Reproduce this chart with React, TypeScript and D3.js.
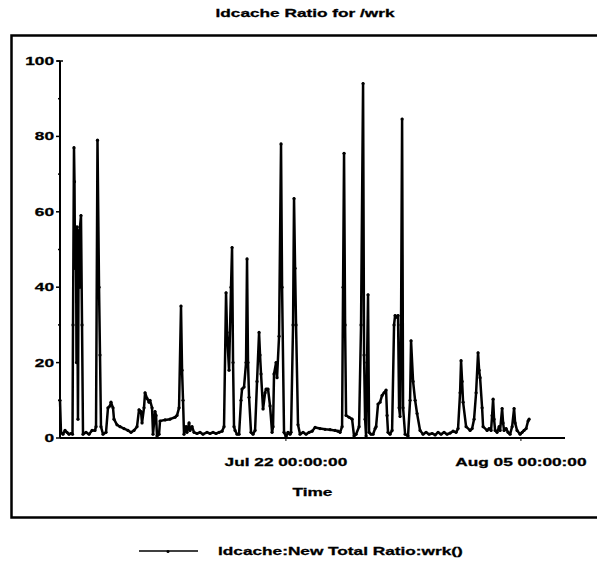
import React from "react";
import * as d3 from "d3";

// time axis of the plot (start/end of the sampled period)
const periodStart = new Date(1998, 6, 8, 13, 0, 0);
const periodEnd = new Date(1998, 7, 7, 15, 0, 0);
const timeTicks = [new Date(1998, 6, 22), new Date(1998, 7, 5)];
const timeTickLabels = ["Jul 22 00:00:00", "Aug 05 00:00:00"];

// sample times, hours after periodStart
const sampleHours = [
  0, 1.4, 4.3, 7.2, 10, 12.9, 15.7, 17.9, 18.6, 20, 20.7, 21.5, 22.9, 23.6, 24.3, 25.7, 26.5, 27.2, 27.9,
  28.6, 30, 31.5, 32.9,
  37.2, 41.5, 45.8, 50, 51.5, 53.6, 55.8, 57.2, 58.6, 61.5, 65.8, 68.6, 71.5, 72.9, 75.8, 77.2, 81.5,
  85.8, 91.5, 97.2, 101.5, 105.8, 110.1, 113, 115.8, 117.3, 120.1, 121.6, 124.4, 127.3, 128.7, 131.6,
  133, 135.9, 137.3, 138.7, 141.6, 143, 150.2, 157.3, 164.5, 167.3, 170.2, 173, 174.5, 175.9, 177.3,
  180.2, 181.6, 184.5, 185.9, 188.8, 191.6, 195.9, 200.2, 204.5, 210.2, 214.5, 218.8, 223.1, 227.4,
  231.7, 234.5, 237.4, 238.8, 241.7, 244.5, 246, 247.4, 248.8, 250.3, 253.1, 256, 258.8, 260.3, 263.1,
  266, 267.4, 268.8, 270.3, 273.1, 276, 278.9, 281.7, 284.6, 286, 287.4, 290.3, 293.2, 294.6, 297.4,
  300.3, 303.2, 304.6, 306, 308.9, 310.3, 313.2, 316, 317.5, 320.3, 323.2, 326, 328.9, 330.3, 333.2,
  334.6, 336.1, 337.5, 340.3, 343.2, 347.5, 351.8, 356.1, 360.4, 364.7, 371.8, 379, 386.1, 393.3,
  397.5, 400.4, 403.3, 404.7, 406.1, 407.6, 409, 413.3, 417.6, 420.4, 423.3, 427.6, 430.4, 433.3,
  434.7, 436.2, 437.6, 439, 440.4, 441.9, 444.7, 447.6, 450.5, 451.9, 454.7, 457.6, 460.5, 463.3,
  466.2, 467.6, 469, 471.9, 474.8, 477.6, 479.1, 481.9, 483.3, 484.8, 486.2, 487.6, 489.1, 490.5,
  493.4, 497.6, 500.5, 501.9, 504.8, 507.7, 510.5, 514.8, 519.1, 523.4, 527.7, 532, 536.3, 540.5,
  544.8, 549.1, 553.4, 557.7, 562, 566.3, 569.1, 572, 573.4, 574.9, 576.3, 580.6, 586.3, 589.2, 592,
  594.9, 597.7, 599.2, 600.6, 603.5, 604.9, 610.6, 613.5, 616.3, 617.8, 619.2, 620.6, 622.1, 624.9,
  627.8, 629.2, 632.1, 633.5, 634.9, 637.8, 640.6, 643.5, 646.4, 649.2, 650.7, 653.5, 657.8, 660.7,
  663.5, 666.4, 669.2, 670.7,
];

// ldcache:New Total Ratio:wrk() values
const ldcacheRatio = [
  10, 1.5, 1, 2, 1.5, 1, 1.2, 1, 30, 77, 68, 45, 55, 20, 56, 5, 45, 55, 40,
  56, 59, 30, 1,
  1.5, 1, 2, 2, 3, 79, 40, 22, 3, 1, 1.5, 8, 8.5, 9.5, 8, 5, 3.5,
  3, 2.5, 2, 1.5, 2, 3, 7.5, 7, 4, 8, 12, 10.5, 9.5, 10, 8,
  1, 7, 6, 0.5, 1, 4.5, 4.8, 5, 5.5, 6, 8, 35, 18, 10, 1,
  3, 1.5, 4, 2, 3, 1.5, 1.2, 1.5, 1, 1.5, 1.2, 1.5, 1.2, 1.5,
  1.8, 3, 38.5, 28, 18, 40, 50.5, 20, 3, 2, 1, 1, 10, 13, 13.5,
  20, 47.5, 20, 10.8, 1.5, 1, 2, 15, 28, 22, 17, 7.7, 12, 13, 13,
  8.5, 1.5, 3, 17, 20, 16, 27, 78, 40, 1.5, 0.3, 1.5, 1, 1.5, 30,
  63.5, 45, 30, 3.5, 1, 1.5, 1, 1.5, 1.8, 2.8, 2.5, 2.3, 2.2, 2,
  1.8, 1.5, 3, 40, 75.5, 30, 6, 5.5, 5, 0.5, 1, 3, 30, 94,
  22, 5, 0.5, 20, 38, 1.5, 1, 1, 2.5, 3, 9, 9.5, 11.3, 12,
  12.7, 6, 1.5, 1, 2, 30, 32.5, 32, 32.5, 8, 5.7, 30, 84.6, 8,
  1, 0.5, 10, 25.8, 15, 10, 6.5, 2, 1, 1.5, 1, 1.2, 0.8, 1.5,
  1, 1.5, 1, 1.3, 1.8, 1.5, 2.5, 12, 20.5, 15, 9.5, 3, 2, 2.5, 5,
  12, 22.6, 18, 16, 8, 3, 2, 2.5, 2, 6, 10.3, 5, 2, 1.5,
  3, 2, 7.8, 4, 2, 2.5, 1.5, 1, 3, 7.8, 4, 2, 1, 1.5,
  2, 2.5, 4.5, 5,
];

const chartTitle = "ldcache Ratio for /wrk";
const seriesName = "ldcache:New Total Ratio:wrk()";

const W = 597;
const H = 570;
const font = "'Liberation Sans', Arial, Helvetica, sans-serif";
// the scanned original has very wide lettering
const stretch = 1.5;

const Label = ({ x, y, anchor = "start", size = 11.5, children }: any) => (
  <text
    transform={`translate(${x},${y}) scale(${stretch},1)`}
    textAnchor={anchor}
    fontFamily={font}
    fontWeight="bold"
    fontSize={size}
    fill="#000"
    stroke="#000"
    strokeWidth={0.3}
  >
    {children}
  </text>
);

const App = () => {
  const x = d3.scaleTime().domain([periodStart, periodEnd]).range([60, 565]);
  const y = d3.scaleLinear().domain([0, 100]).range([438, 61]);

  const points = sampleHours.map((h, i) => ({
    t: d3.timeMinute.offset(periodStart, Math.round(h * 60)),
    v: ldcacheRatio[i],
  }));

  const line = d3
    .line<{ t: Date; v: number }>()
    .x(d => x(d.t))
    .y(d => y(d.v));

  const majorTicks = y.ticks(5);
  const minorTicks = y.ticks(10).filter(t => !majorTicks.includes(t));
  const [x0, x1] = x.range();

  return (
    <svg width={W} height={H} style={{ position: "absolute", left: 0, top: 0, background: "#fff" }}>
      <rect x={0} y={0} width={W} height={H} fill="#fff" />
      <Label x={305} y={17} anchor="middle" size={11.5}>
        {chartTitle}
      </Label>

      {/* outer frame */}
      <rect x={11.5} y={35.5} width={600} height={482} fill="none" stroke="#000" strokeWidth={2.5} />

      {/* y axis */}
      <line x1={x0} x2={x0} y1={y(0)} y2={y(100)} stroke="#000" strokeWidth={2} />
      <line x1={x0 - 3} x2={x0 + 3} y1={y(100)} y2={y(100)} stroke="#000" strokeWidth={1.5} />
      {majorTicks.map(t => (
        <g key={t}>
          <line x1={x0 - 4} x2={x0} y1={y(t)} y2={y(t)} stroke="#000" strokeWidth={1.5} />
          <Label x={54} y={y(t) + 4} anchor="end">
            {t}
          </Label>
        </g>
      ))}
      {minorTicks.map(t => (
        <line key={t} x1={x0 - 2} x2={x0 + 1} y1={y(t)} y2={y(t)} stroke="#000" strokeWidth={1.5} />
      ))}

      {/* x axis */}
      <line x1={x0} x2={x1} y1={y(0)} y2={y(0)} stroke="#000" strokeWidth={1.8} />
      {timeTicks.map((t, i) => (
        <g key={i}>
          <line x1={x(t)} x2={x(t)} y1={y(0)} y2={y(0) + 3} stroke="#000" strokeWidth={1} />
          <Label x={x(t)} y={466} anchor="middle">
            {timeTickLabels[i]}
          </Label>
        </g>
      ))}
      <Label x={(x0 + x1) / 2} y={496} anchor="middle">
        Time
      </Label>

      {/* series */}
      <path d={line(points) || ""} fill="none" stroke="#000" strokeWidth={2.5} strokeLinejoin="round" />
      {points.map((p, i) => (
        <circle key={i} cx={x(p.t)} cy={y(p.v)} r={1.6} fill="#000" />
      ))}

      {/* legend */}
      <line x1={139} x2={198} y1={551} y2={551} stroke="#000" strokeWidth={1.5} />
      <circle cx={168} cy={551.5} r={1.5} fill="#000" />
      <Label x={218} y={555}>
        {seriesName}
      </Label>
    </svg>
  );
};

export default App;
